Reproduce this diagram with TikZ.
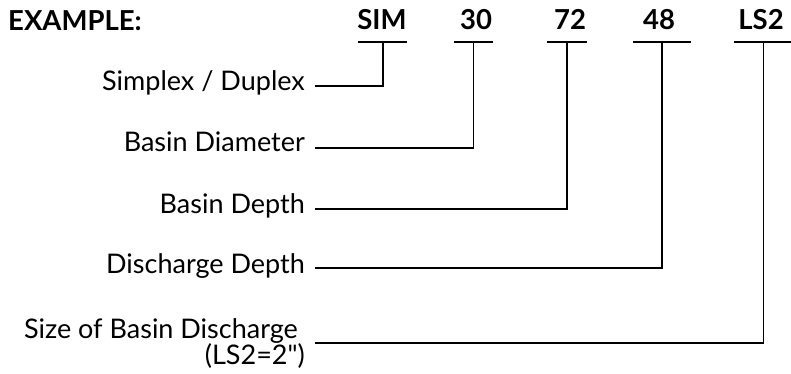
\documentclass[tikz,border=0pt]{standalone}
\usepackage{fontspec}
\setmainfont{Lato}[Ligatures=TeXOff]
\tikzset{
  code/.style={font=\fontsize{27.5}{28}\selectfont\bfseries, inner sep=0pt, anchor=base},
  part/.style={font=\fontsize{27}{26}\selectfont, inner sep=0pt, anchor=base east, align=right},
  bar/.style={line width=1.3pt},
  lead/.style={line width=1.1pt}
}

\begin{document}
\begin{tikzpicture}[x=1pt,y=-1pt]
\useasboundingbox (0,0) rectangle (791,374);
%Header
\node[code, anchor=base west] (ex) at (8,31) {EXAMPLE:};
\node[code] (sim) at (382,30) {SIM};
\node[code] (dia) at (476,30) {30};
\node[code] (dep) at (570,30) {72};
\node[code] (dis) at (659,30) {48};
\node[code] (siz) at (761,30) {LS2};

%Bars under the code
\draw[bar] (358,42) -- coordinate[pos=0.51] (simb) (407,42);
\draw[bar] (454,42) -- coordinate[pos=0.51] (diab) (493,42);
\draw[bar] (547,42) -- coordinate[pos=0.5] (depb) (587,42);
\draw[bar] (633,42) -- coordinate[pos=0.5] (disb) (691,42);
\draw[bar] (734,42) -- coordinate[pos=0.51] (sizb) (791,42);

%Parts
\node[part] (simt) at (305,91) {Simplex / Duplex};
\node[part] (diat) at (305,152) {Basin Diameter};
\node[part] (dept) at (305,213) {Basin Depth};
\node[part] (dist) at (305,273) {Discharge Depth};
\node[part] (sizt) at (305,364) {Size of Basin Discharge\hspace*{7pt}\\(LS2=2")};

%Leads
\draw[lead] ([xshift=10pt,yshift=5pt]simt.base east) -| (simb);
\draw[lead] ([xshift=10pt,yshift=4pt]diat.base east) -| (diab);
\draw[lead] ([xshift=10pt,yshift=4pt]dept.base east) -| (depb);
\draw[lead] ([xshift=10pt,yshift=5pt]dist.base east) -| (disb);
\draw[lead] ([xshift=10pt,yshift=21pt]sizt.base east) -| (sizb);
\end{tikzpicture}
\end{document}
